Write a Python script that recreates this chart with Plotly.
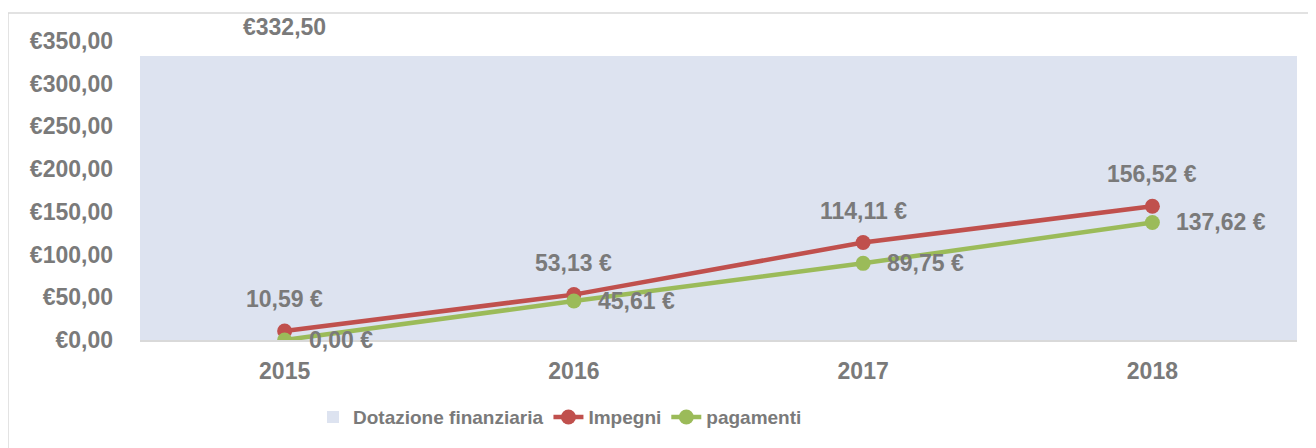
import plotly.graph_objects as go

years = ["2015", "2016", "2017", "2018"]
dotazione = [332.50, 332.50, 332.50, 332.50]
impegni = [10.59, 53.13, 114.11, 156.52]
pagamenti = [0.00, 45.61, 89.75, 137.62]
impegni_labels = ["10,59 €", "53,13 €", "114,11 €", "156,52 €"]
pagamenti_labels = ["0,00 €", "45,61 €", "89,75 €", "137,62 €"]
dotazione_label = "€332,50"
y_tickvals = [0, 50, 100, 150, 200, 250, 300, 350]
y_ticktext = ["€0,00", "€50,00", "€100,00", "€150,00", "€200,00", "€250,00", "€300,00", "€350,00"]

FONT = "Liberation Sans, Arial, sans-serif"
GRAY = "#7a7a7a"
RED = "#c0504d"
GREEN = "#9bbb59"
AREA = "#dde3f0"
LAB = dict(size=23, color=GRAY, family=FONT, weight="bold")

fig = go.Figure()
fig.add_trace(go.Bar(
    x=years, y=dotazione, name="Dotazione finanziaria",
    marker=dict(color=AREA, line=dict(width=0)), width=1.0,
    hoverinfo="skip",
))
fig.add_trace(go.Scatter(
    x=years, y=impegni, name="Impegni", mode="lines+markers",
    line=dict(color=RED, width=4.5), marker=dict(color=RED, size=15),
))
fig.add_trace(go.Scatter(
    x=years, y=pagamenti, name="pagamenti", mode="lines+markers",
    line=dict(color=GREEN, width=4.5), marker=dict(color=GREEN, size=15),
))

annotations = []
for i, (y, t) in enumerate(zip(impegni, impegni_labels)):
    annotations.append(dict(x=i, y=y, xref="x", yref="y", text=t, showarrow=False,
                            yshift=32, font=LAB))
for i, (y, t) in enumerate(zip(pagamenti, pagamenti_labels)):
    annotations.append(dict(x=i, y=y, xref="x", yref="y", text=t, showarrow=False,
                            xanchor="left", xshift=22, font=LAB))
annotations.append(dict(x=0, y=dotazione[0], xref="x", yref="y", text=dotazione_label,
                        showarrow=False, yshift=29, font=LAB))

# the page body has an 8px margin, so the figure is 8px smaller and margins shifted
fig.update_layout(
    width=1308, height=440,
    margin=dict(l=132, r=19, t=33, b=108),
    paper_bgcolor="white", plot_bgcolor="white",
    font=dict(family=FONT, color=GRAY, size=23),
    bargap=0,
    showlegend=True,
    legend=dict(orientation="h", x=0.363, xanchor="center", y=-0.258, yanchor="middle",
                font=dict(size=19, color=GRAY, family=FONT, weight="bold"),
                traceorder="normal"),
    annotations=annotations,
    shapes=[dict(type="rect", xref="paper", yref="paper", x0=-0.1141, x1=1.03,
                 y0=-0.5, y1=1.0936, line=dict(color="#d9d9d9", width=1.5),
                 fillcolor="rgba(0,0,0,0)", layer="below")],
)
fig.update_xaxes(type="category", range=[-0.5, 3.5], showgrid=False, showline=True,
                 linecolor="#d9d9d9", linewidth=1.5, ticks="", ticklabelstandoff=10,
                 tickfont=LAB)
fig.update_yaxes(range=[0, 350], tickvals=y_tickvals, ticktext=y_ticktext,
                 showgrid=True, gridcolor="#d9d9d9", gridwidth=1.5, zeroline=False,
                 showline=False, ticks="", ticklabelstandoff=26,
                 tickfont=LAB)

fig.write_html("out.html")
